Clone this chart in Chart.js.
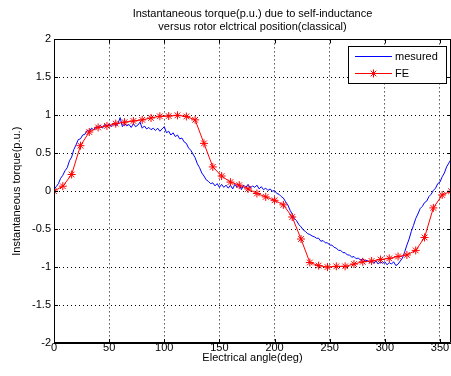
<!DOCTYPE html>
<html>
<head>
<meta charset="utf-8">
<script src="https://cdn.jsdelivr.net/npm/chart.js@4/dist/chart.umd.min.js"></script>
<style>
html,body{margin:0;padding:0;background:#fff;}
#wrap{position:relative;width:451px;height:376px;overflow:hidden;}
</style>
</head>
<body>
<div id="wrap"><canvas id="c" width="451" height="376"></canvas></div>
<script>
// ---- data ----
const titleLines = ['Instantaneous torque(p.u.) due to self-inductance', 'versus rotor elctrical position(classical)'];
const xTitle = 'Electrical angle(deg)';
const yTitle = 'Instantaneous torque(p.u.)';
const seriesNames = ['mesured', 'FE'];

const measuredAngle = [
  0,2,4,6,8,10,12,14,16,18,20,22,24,26,28,30,32,34,36,38,
  40,42,44,46,48,50,52,54,56,58,60,62,64,66,68,70,72,74,76,78,
  80,82,84,86,88,90,92,94,96,98,100,102,104,106,108,110,112,114,116,118,
  120,122,124,126,128,130,132,134,136,138,140,142,144,146,148,150,152,154,156,158,
  160,162,164,166,168,170,172,174,176,178,180,182,184,186,188,190,192,194,196,198,
  200,202,204,206,208,210,212,214,216,218,220,222,224,226,228,230,232,234,236,238,
  240,242,244,246,248,250,252,254,256,258,260,262,264,266,268,270,272,274,276,278,
  280,282,284,286,288,290,292,294,296,298,300,302,304,306,308,310,312,314,316,318,
  320,322,324,326,328,330,332,334,336,338,340,342,344,346,348,350,352,354,356,358,
  360
];
const measuredTorque = [
  0.02,0.06,0.10,0.17,0.21,0.27,0.31,0.40,0.45,0.55,0.61,0.68,0.69,0.74,0.75,0.80,0.79,0.83,0.81,0.85,
  0.84,0.87,0.83,0.88,0.85,0.89,0.85,0.90,0.86,0.89,0.97,0.85,0.89,0.86,0.88,0.84,0.89,0.85,0.87,0.91,
  0.83,0.86,0.82,0.84,0.81,0.83,0.80,0.83,0.79,0.82,0.85,0.77,0.79,0.74,0.77,0.72,0.74,0.69,0.70,0.65,
  0.63,0.57,0.54,0.49,0.44,0.36,0.31,0.24,0.20,0.15,0.13,0.10,0.11,0.07,0.10,0.05,0.09,0.05,0.08,0.04,
  0.08,0.03,0.09,0.05,0.08,0.02,0.08,0.05,0.09,0.04,0.07,0.05,0.08,0.03,0.06,0.02,0.04,0.01,0.03,0.00,
  0.01,-0.03,-0.04,-0.07,-0.09,-0.14,-0.18,-0.25,-0.30,-0.36,-0.39,-0.44,-0.47,-0.51,-0.53,-0.56,-0.57,-0.59,-0.60,-0.62,
  -0.62,-0.66,-0.65,-0.68,-0.68,-0.71,-0.71,-0.74,-0.75,-0.78,-0.78,-0.81,-0.81,-0.84,-0.84,-0.87,-0.86,-0.89,-0.88,-0.91,
  -0.89,-0.92,-0.91,-0.94,-0.92,-0.95,-0.92,-0.96,-0.93,-0.95,-0.93,-0.97,-0.94,-0.96,-0.93,-0.98,-0.96,-0.92,-0.88,-0.80,
  -0.71,-0.63,-0.53,-0.45,-0.36,-0.30,-0.23,-0.20,-0.15,-0.13,-0.07,-0.04,0.01,0.04,0.10,0.12,0.19,0.24,0.32,0.37,
  0.42
];

const feAngle = [
  0,8,16,24,32,40,48,56,64,72,80,88,96,104,112,120,128,136,144,152,
  160,168,176,184,192,200,208,216,224,232,240,248,256,264,272,280,288,296,304,312,
  320,328,336,344,352,360
];
const feTorque = [
  0.00,0.066,0.22,0.60,0.78,0.84,0.86,0.89,0.91,0.925,0.94,0.965,0.987,0.99,1.00,0.985,0.94,0.63,0.32,0.20,
  0.12,0.08,0.03,-0.03,-0.075,-0.12,-0.18,-0.34,-0.63,-0.94,-0.98,-1.00,-0.99,-0.99,-0.96,-0.93,-0.92,-0.90,-0.885,-0.86,
  -0.84,-0.78,-0.61,-0.22,-0.05,0.00
];

const xTickStep = 50;
const yTickStep = 0.5;

// ---- chart ----
const FONT = "'Liberation Sans', Arial, sans-serif";
const toPts = (xs, ys) => xs.map((x, i) => ({x: x, y: ys[i]}));

const framePlugin = {
  id: 'frame',
  afterDatasetsDraw(chart) {
    const {ctx, chartArea: a, scales} = chart;
    ctx.save();
    ctx.strokeStyle = '#000';
    ctx.lineWidth = 1;
    ctx.beginPath();
    ctx.rect(Math.round(a.left) + 0.5, Math.round(a.top) + 0.5, Math.round(a.right - a.left) - 1, Math.round(a.bottom - a.top) - 1);
    ctx.stroke();
    ctx.beginPath();
    scales.x.ticks.forEach(t => {
      const px = Math.round(scales.x.getPixelForValue(t.value)) + 0.5;
      ctx.moveTo(px, a.bottom); ctx.lineTo(px, a.bottom - 4);
      ctx.moveTo(px, a.top); ctx.lineTo(px, a.top + 4);
    });
    scales.y.ticks.forEach(t => {
      const py = Math.round(scales.y.getPixelForValue(t.value)) + 0.5;
      ctx.moveTo(a.left, py); ctx.lineTo(a.left + 4, py);
      ctx.moveTo(a.right, py); ctx.lineTo(a.right - 4, py);
    });
    ctx.stroke();
    ctx.restore();
  }
};

const legendPlugin = {
  id: 'boxLegend',
  afterDraw(chart) {
    const {ctx} = chart;
    const ds = chart.data.datasets;
    const x0 = 348, y0 = 46, w = 99, h = 38;
    ctx.save();
    ctx.fillStyle = '#fff';
    ctx.fillRect(x0, y0, w, h);
    ctx.strokeStyle = '#000';
    ctx.lineWidth = 1;
    ctx.strokeRect(x0 + 0.5, y0 + 0.5, w - 1, h - 1);
    ctx.font = '11px ' + FONT;
    ctx.textBaseline = 'middle';
    ds.forEach((d, i) => {
      const y = y0 + 10.5 + i * 17;
      ctx.strokeStyle = d.borderColor;
      ctx.lineWidth = 1;
      ctx.beginPath();
      ctx.moveTo(355, y); ctx.lineTo(392, y);
      ctx.stroke();
      if (d.pointRadius > 0) {
        const r = 4;
        ctx.beginPath();
        for (let k = 0; k < 4; k++) {
          const ang = k * Math.PI / 4;
          ctx.moveTo(373.5 - r * Math.cos(ang), y - r * Math.sin(ang));
          ctx.lineTo(373.5 + r * Math.cos(ang), y + r * Math.sin(ang));
        }
        ctx.stroke();
      }
      ctx.fillStyle = '#000';
      ctx.fillText(d.label, 395, y);
    });
    ctx.restore();
  }
};

new Chart(document.getElementById('c'), {
  type: 'line',
  data: {
    datasets: [
      {
        label: seriesNames[0],
        data: toPts(measuredAngle, measuredTorque),
        borderColor: '#0000ff',
        backgroundColor: '#0000ff',
        borderWidth: 1,
        pointRadius: 0,
        tension: 0,
        order: 2
      },
      {
        label: seriesNames[1],
        data: toPts(feAngle, feTorque),
        borderColor: '#ff0000',
        backgroundColor: '#ff0000',
        borderWidth: 1,
        pointStyle: 'star',
        pointRadius: 4,
        pointBorderColor: '#ff0000',
        pointBorderWidth: 1,
        tension: 0,
        order: 1
      }
    ]
  },
  options: {
    responsive: false,
    animation: false,
    events: [],
    layout: {autoPadding: false, padding: {left: 0, right: 0, top: 0, bottom: 0}},
    plugins: {
      legend: {display: false},
      tooltip: {enabled: false},
      title: {
        display: true,
        text: titleLines,
        fullSize: false,
        color: '#000',
        font: {family: FONT, size: 11, weight: 'normal', lineHeight: 1.2},
        padding: {top: 7, bottom: 6}
      }
    },
    scales: {
      x: {
        type: 'linear',
        min: 0, max: 360,
        ticks: {stepSize: xTickStep, includeBounds: false, color: '#000', padding: -2, maxRotation: 0,
          font: {family: FONT, size: 11}},
        grid: {color: '#000', lineWidth: 1, drawTicks: false, borderDash: [1, 3]},
        border: {display: true, color: '#000', width: 1, dash: [1, 3]},
        title: {display: true, text: xTitle, color: '#000', font: {family: FONT, size: 11}, padding: {top: 0, bottom: 11}},
        afterFit(s) { s.height = 33; s.paddingLeft = 0; s.paddingRight = 0; }
      },
      y: {
        type: 'linear',
        min: -2, max: 2,
        ticks: {stepSize: yTickStep, color: '#000', padding: 3, font: {family: FONT, size: 11},
          callback: v => String(Math.round(v * 10) / 10)},
        grid: {color: '#000', lineWidth: 1, drawTicks: false, borderDash: [1, 3]},
        border: {display: true, color: '#000', width: 1, dash: [1, 3]},
        title: {display: true, text: yTitle, color: '#000', font: {family: FONT, size: 11}, padding: {top: 10, bottom: 0}},
        afterFit(s) { s.width = 54; s.paddingTop = 0; s.paddingBottom = 0; }
      }
    }
  },
  plugins: [framePlugin, legendPlugin]
});
</script>
</body>
</html>
